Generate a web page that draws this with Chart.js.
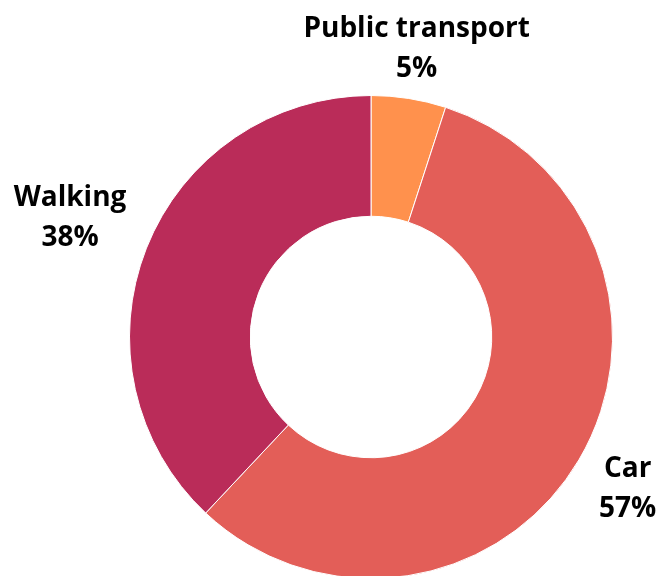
<!DOCTYPE html>
<html>
<head>
<meta charset="utf-8">
<script src="https://cdn.jsdelivr.net/npm/chart.js@4/dist/chart.umd.min.js"></script>
<style>
  html, body { margin: 0; padding: 0; background: #fff; overflow: hidden; }
  #wrap { width: 659px; height: 600px; }
</style>
</head>
<body>
<div id="wrap"><canvas id="chart" width="659" height="600"></canvas></div>
<script>
// Travel mode share (doughnut)
const categories = ['Public transport', 'Car', 'Walking'];
const shares = [5, 57, 38];
const sliceColors = ['#FF914D', '#E35E58', '#BA2C59'];

// Draws "Name\nNN%" outside each slice, from the arc geometry
const outsideLabels = {
  id: 'outsideLabels',
  afterDatasetsDraw(chart) {
    const ctx = chart.ctx;
    const meta = chart.getDatasetMeta(0);
    ctx.save();
    ctx.font = 'bold 28px "Open Sans", sans-serif';
    ctx.fillStyle = '#000';
    ctx.textAlign = 'center';
    ctx.textBaseline = 'middle';
    meta.data.forEach((arc, i) => {
      const p = arc.getProps(['x', 'y', 'startAngle', 'endAngle', 'outerRadius'], true);
      const mid = (p.startAngle + p.endAngle) / 2;
      const lines = [categories[i], shares[i] + '%'];
      const w = Math.max(...lines.map(t => ctx.measureText(t).width));
      const off = 34 + 0.46 * w * Math.abs(Math.cos(mid));
      const r = p.outerRadius + off;
      const cx = p.x + Math.cos(mid) * r;
      const cy = p.y + Math.sin(mid) * r;
      ctx.fillText(lines[0], cx, cy - 20);
      ctx.fillText(lines[1], cx, cy + 20);
    });
    ctx.restore();
  }
};

new Chart(document.getElementById('chart'), {
  type: 'doughnut',
  data: {
    labels: categories,
    datasets: [{
      data: shares,
      backgroundColor: sliceColors,
      borderColor: '#fff',
      borderWidth: 1
    }]
  },
  options: {
    responsive: false,
    animation: false,
    cutout: '50%',
    layout: { padding: { left: 129, right: 46, top: 95, bottom: 21 } },
    plugins: {
      legend: { display: false },
      tooltip: { enabled: false }
    }
  },
  plugins: [outsideLabels]
});
</script>
</body>
</html>
